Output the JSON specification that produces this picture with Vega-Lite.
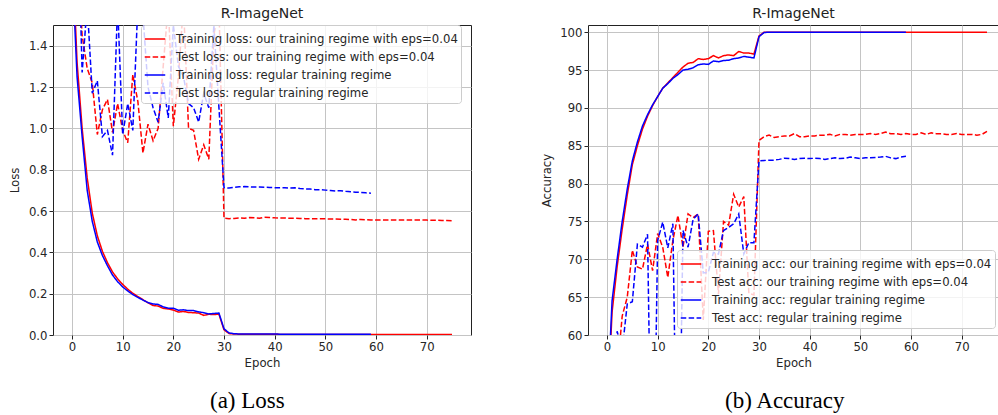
{
  "$schema": "https://vega.github.io/schema/vega-lite/v6.json",
  "padding": {"left": 9, "top": 6, "right": 0, "bottom": 2},
  "spacing": 68,
  "datasets": {
    "loss": [
      {"epoch":0,"a":1.9,"b":3.0,"c":1.8,"d":3.5},
      {"epoch":1,"a":1.32,"b":1.9,"c":1.25,"d":2.2},
      {"epoch":2,"a":1.0,"b":1.45,"c":0.96,"d":1.27},
      {"epoch":3,"a":0.76,"b":1.29,"c":0.70,"d":1.6},
      {"epoch":4,"a":0.59,"b":1.22,"c":0.55,"d":1.17},
      {"epoch":5,"a":0.48,"b":0.97,"c":0.45,"d":1.23},
      {"epoch":6,"a":0.405,"b":1.09,"c":0.385,"d":0.96},
      {"epoch":7,"a":0.35,"b":1.14,"c":0.335,"d":0.99},
      {"epoch":8,"a":0.305,"b":0.98,"c":0.29,"d":0.87},
      {"epoch":9,"a":0.272,"b":1.12,"c":0.258,"d":1.6},
      {"epoch":10,"a":0.245,"b":0.99,"c":0.233,"d":0.97},
      {"epoch":11,"a":0.222,"b":0.93,"c":0.213,"d":1.12},
      {"epoch":12,"a":0.202,"b":1.26,"c":0.196,"d":0.99},
      {"epoch":13,"a":0.186,"b":1.13,"c":0.182,"d":1.6},
      {"epoch":14,"a":0.171,"b":0.88,"c":0.169,"d":1.55},
      {"epoch":15,"a":0.156,"b":1.02,"c":0.157,"d":1.2},
      {"epoch":16,"a":0.143,"b":0.94,"c":0.15,"d":1.1},
      {"epoch":17,"a":0.14,"b":1.0,"c":0.148,"d":1.03},
      {"epoch":18,"a":0.129,"b":1.3,"c":0.136,"d":1.22},
      {"epoch":19,"a":0.126,"b":1.6,"c":0.13,"d":1.05},
      {"epoch":20,"a":0.121,"b":1.01,"c":0.13,"d":1.5},
      {"epoch":21,"a":0.111,"b":1.25,"c":0.12,"d":1.3},
      {"epoch":22,"a":0.114,"b":1.6,"c":0.122,"d":1.25},
      {"epoch":23,"a":0.109,"b":1.0,"c":0.118,"d":1.12},
      {"epoch":24,"a":0.108,"b":0.99,"c":0.118,"d":1.1},
      {"epoch":25,"a":0.106,"b":0.85,"c":0.112,"d":1.03},
      {"epoch":26,"a":0.095,"b":0.92,"c":0.108,"d":1.17},
      {"epoch":27,"a":0.1,"b":0.85,"c":0.102,"d":1.1},
      {"epoch":28,"a":0.099,"b":1.45,"c":0.104,"d":1.5},
      {"epoch":29,"a":0.101,"b":1.6,"c":0.106,"d":1.1},
      {"epoch":30,"a":0.025,"b":0.565,"c":0.03,"d":0.713},
      {"epoch":31,"a":0.007,"b":0.563,"c":0.01,"d":0.711},
      {"epoch":32,"a":0.005,"b":0.564,"c":0.006,"d":0.714},
      {"epoch":33,"a":0.004,"b":0.566,"c":0.005,"d":0.717},
      {"epoch":34,"a":0.004,"b":0.565,"c":0.005,"d":0.718},
      {"epoch":35,"a":0.004,"b":0.568,"c":0.005,"d":0.717},
      {"epoch":36,"a":0.004,"b":0.567,"c":0.005,"d":0.716},
      {"epoch":37,"a":0.004,"b":0.565,"c":0.005,"d":0.716},
      {"epoch":38,"a":0.004,"b":0.570,"c":0.005,"d":0.715},
      {"epoch":39,"a":0.004,"b":0.569,"c":0.005,"d":0.714},
      {"epoch":40,"a":0.004,"b":0.567,"c":0.005,"d":0.713},
      {"epoch":41,"a":0.003,"b":0.566,"c":0.004,"d":0.712},
      {"epoch":42,"a":0.003,"b":0.566,"c":0.004,"d":0.713},
      {"epoch":43,"a":0.003,"b":0.565,"c":0.004,"d":0.711},
      {"epoch":44,"a":0.003,"b":0.565,"c":0.004,"d":0.712},
      {"epoch":45,"a":0.003,"b":0.564,"c":0.004,"d":0.709},
      {"epoch":46,"a":0.003,"b":0.563,"c":0.004,"d":0.707},
      {"epoch":47,"a":0.003,"b":0.563,"c":0.004,"d":0.706},
      {"epoch":48,"a":0.003,"b":0.562,"c":0.004,"d":0.703},
      {"epoch":49,"a":0.003,"b":0.563,"c":0.004,"d":0.703},
      {"epoch":50,"a":0.003,"b":0.562,"c":0.004,"d":0.701},
      {"epoch":51,"a":0.003,"b":0.561,"c":0.004,"d":0.699},
      {"epoch":52,"a":0.003,"b":0.561,"c":0.004,"d":0.697},
      {"epoch":53,"a":0.003,"b":0.560,"c":0.004,"d":0.698},
      {"epoch":54,"a":0.003,"b":0.560,"c":0.004,"d":0.695},
      {"epoch":55,"a":0.003,"b":0.559,"c":0.004,"d":0.693},
      {"epoch":56,"a":0.003,"b":0.557,"c":0.004,"d":0.691},
      {"epoch":57,"a":0.003,"b":0.559,"c":0.004,"d":0.690},
      {"epoch":58,"a":0.003,"b":0.558,"c":0.004,"d":0.688},
      {"epoch":59,"a":0.003,"b":0.557,"c":0.004,"d":0.686},
      {"epoch":60,"a":0.003,"b":0.556},
      {"epoch":61,"a":0.003,"b":0.557},
      {"epoch":62,"a":0.003,"b":0.556},
      {"epoch":63,"a":0.003,"b":0.557},
      {"epoch":64,"a":0.003,"b":0.557},
      {"epoch":65,"a":0.003,"b":0.556},
      {"epoch":66,"a":0.003,"b":0.557},
      {"epoch":67,"a":0.003,"b":0.556},
      {"epoch":68,"a":0.003,"b":0.557},
      {"epoch":69,"a":0.003,"b":0.557},
      {"epoch":70,"a":0.003,"b":0.556},
      {"epoch":71,"a":0.003,"b":0.555},
      {"epoch":72,"a":0.003,"b":0.555},
      {"epoch":73,"a":0.003,"b":0.554},
      {"epoch":74,"a":0.003,"b":0.554},
      {"epoch":75,"a":0.003,"b":0.553}
    ],
    "acc": [
      {"epoch":0,"a":49,"b":35,"c":50,"d":30},
      {"epoch":1,"a":63,"b":45,"c":64.5,"d":45},
      {"epoch":2,"a":69,"b":55,"c":70,"d":60.5},
      {"epoch":3,"a":74,"b":62.5,"c":75,"d":58},
      {"epoch":4,"a":78.5,"b":65,"c":79.3,"d":64.1},
      {"epoch":5,"a":82.5,"b":71.2,"c":83,"d":64.4},
      {"epoch":6,"a":85,"b":69,"c":85.5,"d":72},
      {"epoch":7,"a":87.2,"b":68.7,"c":87.6,"d":71.6},
      {"epoch":8,"a":88.9,"b":72,"c":89.1,"d":73.3},
      {"epoch":9,"a":90.3,"b":68.5,"c":90.4,"d":30},
      {"epoch":10,"a":91.5,"b":73.4,"c":91.5,"d":72.5},
      {"epoch":11,"a":92.6,"b":71.6,"c":92.6,"d":74.9},
      {"epoch":12,"a":93.3,"b":67.6,"c":93.2,"d":71.5},
      {"epoch":13,"a":94.0,"b":72.5,"c":93.9,"d":74.7},
      {"epoch":14,"a":94.7,"b":75.8,"c":94.4,"d":30},
      {"epoch":15,"a":95.4,"b":71.6,"c":95.0,"d":73.8},
      {"epoch":16,"a":95.9,"b":76,"c":95.1,"d":71.6},
      {"epoch":17,"a":96.0,"b":75.5,"c":95.3,"d":75.3},
      {"epoch":18,"a":96.5,"b":76,"c":95.7,"d":76},
      {"epoch":19,"a":96.4,"b":62,"c":95.8,"d":68.2},
      {"epoch":20,"a":96.5,"b":73.7,"c":95.75,"d":68.3},
      {"epoch":21,"a":96.9,"b":73.8,"c":96.2,"d":70.9},
      {"epoch":22,"a":96.6,"b":65.4,"c":96.1,"d":70.7},
      {"epoch":23,"a":96.9,"b":75,"c":96.25,"d":73.8},
      {"epoch":24,"a":97.0,"b":74.5,"c":96.3,"d":74.2},
      {"epoch":25,"a":96.9,"b":78.6,"c":96.5,"d":74.7},
      {"epoch":26,"a":97.45,"b":76.9,"c":96.6,"d":76},
      {"epoch":27,"a":97.25,"b":78.3,"c":96.8,"d":70.7},
      {"epoch":28,"a":97.25,"b":65.5,"c":96.7,"d":72.2},
      {"epoch":29,"a":97.1,"b":65.3,"c":96.6,"d":72.2},
      {"epoch":30,"a":99.5,"b":85.7,"c":99.4,"d":83.0},
      {"epoch":31,"a":99.98,"b":86.2,"c":99.95,"d":83.05},
      {"epoch":32,"a":100,"b":86.4,"c":100,"d":83.1},
      {"epoch":33,"a":100,"b":86.1,"c":100,"d":83.1},
      {"epoch":34,"a":100,"b":86.2,"c":100,"d":83.2},
      {"epoch":35,"a":100,"b":86.3,"c":100,"d":83.35},
      {"epoch":36,"a":100,"b":86.3,"c":100,"d":83.3},
      {"epoch":37,"a":100,"b":86.6,"c":100,"d":83.2},
      {"epoch":38,"a":100,"b":86.2,"c":100,"d":83.3},
      {"epoch":39,"a":100,"b":86.2,"c":100,"d":83.35},
      {"epoch":40,"a":100,"b":86.3,"c":100,"d":83.3},
      {"epoch":41,"a":100,"b":86.3,"c":100,"d":83.35},
      {"epoch":42,"a":100,"b":86.4,"c":100,"d":83.3},
      {"epoch":43,"a":100,"b":86.4,"c":100,"d":83.2},
      {"epoch":44,"a":100,"b":86.5,"c":100,"d":83.3},
      {"epoch":45,"a":100,"b":86.3,"c":100,"d":83.4},
      {"epoch":46,"a":100,"b":86.5,"c":100,"d":83.3},
      {"epoch":47,"a":100,"b":86.5,"c":100,"d":83.35},
      {"epoch":48,"a":100,"b":86.4,"c":100,"d":83.5},
      {"epoch":49,"a":100,"b":86.5,"c":100,"d":83.4},
      {"epoch":50,"a":100,"b":86.5,"c":100,"d":83.3},
      {"epoch":51,"a":100,"b":86.5,"c":100,"d":83.4},
      {"epoch":52,"a":100,"b":86.6,"c":100,"d":83.4},
      {"epoch":53,"a":100,"b":86.5,"c":100,"d":83.45},
      {"epoch":54,"a":100,"b":86.6,"c":100,"d":83.5},
      {"epoch":55,"a":100,"b":86.8,"c":100,"d":83.6},
      {"epoch":56,"a":100,"b":86.6,"c":100,"d":83.4},
      {"epoch":57,"a":100,"b":86.6,"c":100,"d":83.3},
      {"epoch":58,"a":100,"b":86.5,"c":100,"d":83.5},
      {"epoch":59,"a":100,"b":86.6,"c":100,"d":83.6},
      {"epoch":60,"a":100,"b":86.5},
      {"epoch":61,"a":100,"b":86.5},
      {"epoch":62,"a":100,"b":86.7},
      {"epoch":63,"a":100,"b":86.5},
      {"epoch":64,"a":100,"b":86.7},
      {"epoch":65,"a":100,"b":86.6},
      {"epoch":66,"a":100,"b":86.6},
      {"epoch":67,"a":100,"b":86.5},
      {"epoch":68,"a":100,"b":86.5},
      {"epoch":69,"a":100,"b":86.6},
      {"epoch":70,"a":100,"b":86.5},
      {"epoch":71,"a":100,"b":86.5},
      {"epoch":72,"a":100,"b":86.5},
      {"epoch":73,"a":100,"b":86.4},
      {"epoch":74,"a":100,"b":86.5},
      {"epoch":75,"a":100,"b":86.9}
    ]
  },
  "hconcat": [
    {
      "title": {"text": "(a) Loss", "orient": "bottom", "font": "Liberation Serif", "fontSize": 23, "fontWeight": "normal", "color": "#000000", "offset": 20, "anchor": "start", "frame": "group", "dx": 157},
      "vconcat": [
        {
          "title": {"text": "R-ImageNet", "fontSize": 14, "fontWeight": "normal", "font": "DejaVu Sans", "color": "#222222", "offset": 4, "frame": "group", "anchor": "middle"},
          "width": 418,
          "height": 310,
          "data": {"name": "loss"},
          "transform": [{"fold": ["a", "b", "c", "d"], "as": ["series", "value"]}],
          "mark": {"type": "line", "strokeWidth": 1.5, "clip": true},
          "encoding": {
            "x": {"field": "epoch", "type": "quantitative", "scale": {"domain": [-3.75, 78.75], "nice": false, "zero": false}, "axis": {"title": "Epoch", "values": [0, 10, 20, 30, 40, 50, 60, 70]}},
            "y": {"field": "value", "type": "quantitative", "scale": {"domain": [0, 1.5], "nice": false}, "axis": {"title": "Loss", "values": [0, 0.2, 0.4, 0.6, 0.8, 1.0, 1.2, 1.4], "format": ".1f"}},
            "color": {"field": "series", "type": "nominal", "scale": {"domain": ["a", "b", "c", "d"], "range": ["#ff0000", "#ff0000", "#0000ff", "#0000ff"]},
              "legend": {"title": null, "orient": "none", "legendX": 88, "legendY": 0, "labelExpr": "datum.label == 'a' ? 'Training loss: our training regime with eps=0.04' : datum.label == 'b' ? 'Test loss: our training regime with eps=0.04' : datum.label == 'c' ? 'Training loss: regular training regime' : 'Test loss: regular training regime'"}},
            "strokeDash": {"field": "series", "type": "nominal", "scale": {"domain": ["a", "b", "c", "d"], "range": [[1, 0], [5.5, 2.4], [1, 0], [5.5, 2.4]]},
              "legend": {"title": null, "orient": "none", "legendX": 88, "legendY": 0, "labelExpr": "datum.label == 'a' ? 'Training loss: our training regime with eps=0.04' : datum.label == 'b' ? 'Test loss: our training regime with eps=0.04' : datum.label == 'c' ? 'Training loss: regular training regime' : 'Test loss: regular training regime'"}}
          }
        }
      ]
    },
    {
      "title": {"text": "(b) Accuracy", "orient": "bottom", "font": "Liberation Serif", "fontSize": 23, "fontWeight": "normal", "color": "#000000", "offset": 20, "anchor": "start", "frame": "group", "dx": 137},
      "vconcat": [
        {
          "title": {"text": "R-ImageNet", "fontSize": 14, "fontWeight": "normal", "font": "DejaVu Sans", "color": "#222222", "offset": 4, "frame": "group", "anchor": "middle"},
          "width": 411,
          "height": 310,
          "data": {"name": "acc"},
          "transform": [{"fold": ["a", "b", "c", "d"], "as": ["series", "value"]}],
          "mark": {"type": "line", "strokeWidth": 1.5, "clip": true},
          "encoding": {
            "x": {"field": "epoch", "type": "quantitative", "scale": {"domain": [-3.75, 77.37], "nice": false, "zero": false}, "axis": {"title": "Epoch", "values": [0, 10, 20, 30, 40, 50, 60, 70]}},
            "y": {"field": "value", "type": "quantitative", "scale": {"domain": [60, 100.95], "nice": false, "zero": false}, "axis": {"title": "Accuracy", "values": [60, 65, 70, 75, 80, 85, 90, 95, 100], "format": "d"}},
            "color": {"field": "series", "type": "nominal", "scale": {"domain": ["a", "b", "c", "d"], "range": ["#ff0000", "#ff0000", "#0000ff", "#0000ff"]},
              "legend": {"title": null, "orient": "none", "legendX": 89, "legendY": 225, "labelExpr": "datum.label == 'a' ? 'Training acc: our training regime with eps=0.04' : datum.label == 'b' ? 'Test acc: our training regime with eps=0.04' : datum.label == 'c' ? 'Training acc: regular training regime' : 'Test acc: regular training regime'"}},
            "strokeDash": {"field": "series", "type": "nominal", "scale": {"domain": ["a", "b", "c", "d"], "range": [[1, 0], [5.5, 2.4], [1, 0], [5.5, 2.4]]},
              "legend": {"title": null, "orient": "none", "legendX": 89, "legendY": 225, "labelExpr": "datum.label == 'a' ? 'Training acc: our training regime with eps=0.04' : datum.label == 'b' ? 'Test acc: our training regime with eps=0.04' : datum.label == 'c' ? 'Training acc: regular training regime' : 'Test acc: regular training regime'"}}
          }
        }
      ]
    }
  ],
  "resolve": {"scale": {"color": "independent", "strokeDash": "independent"}, "legend": {"color": "independent", "strokeDash": "independent"}},
  "config": {
    "font": "DejaVu Sans",
    "background": "#ffffff",
    "view": {"stroke": "#222222", "strokeWidth": 1},
    "axis": {"labelFont": "DejaVu Sans", "labelFontSize": 11.7, "labelColor": "#262626", "titleFont": "DejaVu Sans", "titleFontSize": 11.7, "titleFontWeight": "normal", "titleColor": "#262626", "titlePadding": 7.5, "gridColor": "#c4c4c4", "gridWidth": 1, "tickColor": "#262626", "tickSize": 4, "labelPadding": 2, "domain": false, "labelFlush": false, "labelOverlap": false},
    "axisX": {"titlePadding": 5},
    "legend": {"labelFont": "DejaVu Sans", "labelFontSize": 11.7, "labelColor": "#262626", "symbolType": "stroke", "symbolSize": 420, "symbolStrokeWidth": 1.5, "rowPadding": 0, "padding": 3, "fillColor": "rgba(255,255,255,0.8)", "strokeColor": "#cccccc", "cornerRadius": 3, "labelLimit": 400, "labelOffset": 10}
  }
}
